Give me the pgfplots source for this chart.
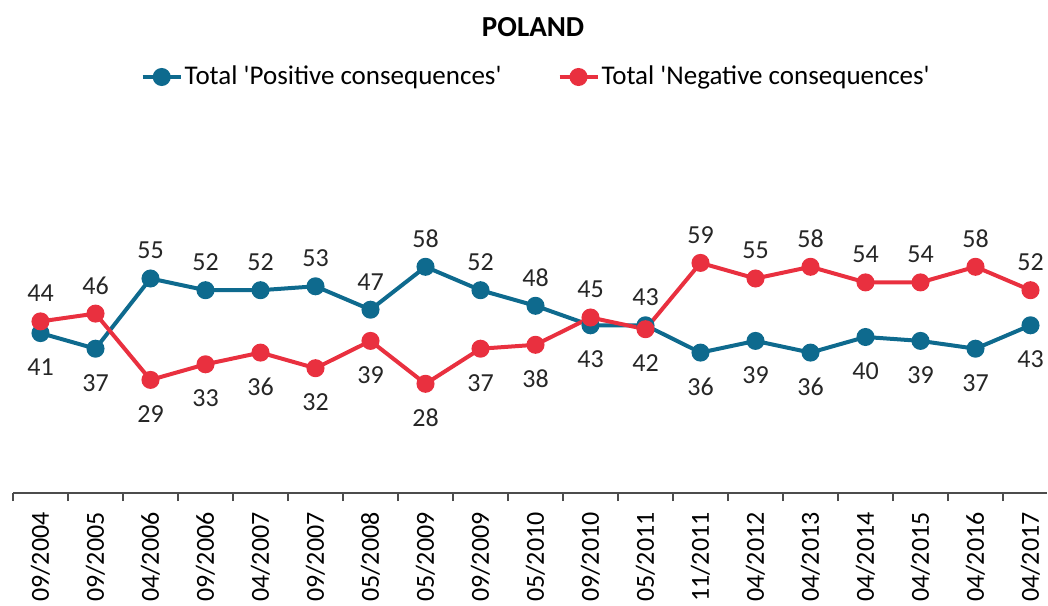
\documentclass[border=0pt]{standalone}
\usepackage{pgfplots}
\pgfplotsset{compat=1.18}
\usepackage{pgfplotstable}
\usepackage{fontspec}
\setmainfont{Carlito}
\definecolor{posblue}{RGB}{14,106,142}
\definecolor{negred}{RGB}{233,48,63}

\pgfplotstableread{
x y
0 41
1 37
2 55
3 52
4 52
5 53
6 47
7 58
8 52
9 48
10 43
11 43
12 36
13 39
14 36
15 40
16 39
17 37
18 43
}\postab

\pgfplotstableread{
x y
0 44
1 46
2 29
3 33
4 36
5 32
6 39
7 28
8 37
9 38
10 45
11 42
12 59
13 55
14 58
15 54
16 54
17 58
18 52
}\negtab

\pgfplotsset{
  lbl/.style={
    forget plot, only marks, mark=none,
    nodes near coords,
    every node near coord/.style={anchor=center, font=\fontsize{13}{15}\selectfont, text=black!85,
      yshift=#1},
  },
}

\begin{document}
\begin{tikzpicture}
\begin{axis}[
  name=ax,
  scale only axis,
  width=517pt, height=195pt,
  xmin=-0.5, xmax=18.3,
  ymin=0, ymax=100,
  axis x line*=bottom,
  axis y line=none,
  x axis line style={draw=black!70, line width=0.6pt, -},
  xtick={0,...,18},
  xticklabels={09/2004,09/2005,04/2006,09/2006,04/2007,09/2007,05/2008,05/2009,09/2009,05/2010,09/2010,05/2011,11/2011,04/2012,04/2013,04/2014,04/2015,04/2016,04/2017},
  major tick length=0pt,
  minor xtick={-0.5,0.5,...,17.5},
  minor tick length=4pt,
  tick align=outside,
  minor tick style={draw=black!70, line width=0.6pt},
  x tick label style={rotate=90, anchor=east, font=\fontsize{13}{15}\selectfont, inner sep=0pt},
  xticklabel shift=9.5pt,
  /pgf/number format/assume math mode=true,
  clip=false,
  legend columns=2,
  legend style={draw=none, fill=none, at={(rel axis cs:0.506,1)}, yshift=13pt, anchor=center,
    font=\fontsize{13.5}{15}\selectfont, /tikz/every even column/.append style={column sep=27pt},
    nodes={inner xsep=1pt}},
  legend image code/.code={\draw[#1, mark repeat=2, mark phase=2] plot coordinates {(0pt,0pt)(9.5pt,0pt)(19pt,0pt)};},
]
\addplot[color=posblue, line width=2pt, mark=*, mark size=3.5pt, mark options={solid}] table[x=x, y=y] {\postab};
\addlegendentry{Total \textquotesingle Positive consequences\textquotesingle}
\addplot[color=negred, line width=2pt, mark=*, mark size=3.5pt, mark options={solid}] table[x=x, y=y] {\negtab};
\addlegendentry{Total \textquotesingle Negative consequences\textquotesingle}
% data labels above / below the points
\addplot[lbl=14pt] coordinates {(2,55)(3,52)(4,52)(5,53)(6,47)(7,58)(8,52)(9,48)(11,43)};
\addplot[lbl=-17pt] coordinates {(0,41)(1,37)(10,43)(12,36)(13,39)(14,36)(15,40)(16,39)(17,37)(18,43)};
\addplot[lbl=14pt] coordinates {(0,44)(1,46)(10,45)(12,59)(13,55)(14,58)(15,54)(16,54)(17,58)(18,52)};
\addplot[lbl=-17pt] coordinates {(2,29)(3,33)(4,36)(5,32)(6,39)(7,28)(8,37)(9,38)(11,42)};
\node[font=\bfseries\fontsize{14.5}{16}\selectfont] at (rel axis cs:0.503,1) [yshift=38pt] {POLAND};
\end{axis}
\pgfresetboundingbox
\path[use as bounding box] (ax.south west) ++(-6.5pt,-56pt) rectangle ++(524pt,302.5pt);
\end{tikzpicture}
\end{document}
